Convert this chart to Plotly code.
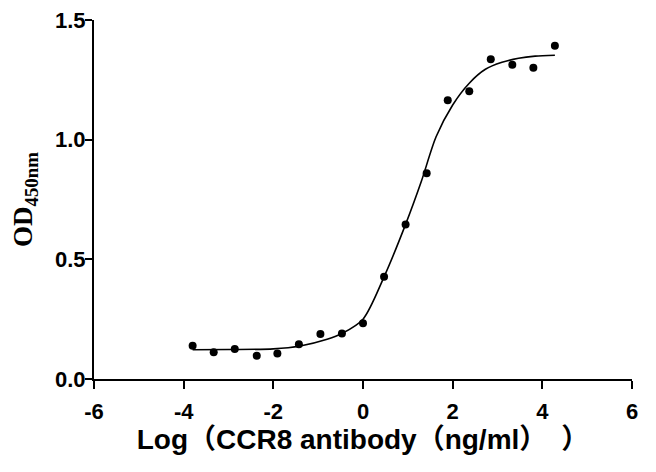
import plotly.graph_objects as go

# measured points, log concentration vs OD450
log_conc = [-3.80, -3.33, -2.86, -2.37, -1.91, -1.43, -0.95, -0.47, 0.00,
            0.47, 0.95, 1.42, 1.89, 2.37, 2.85, 3.33, 3.80, 4.28]
od450 = [0.139, 0.112, 0.125, 0.097, 0.107, 0.145, 0.188, 0.190, 0.233,
         0.427, 0.646, 0.860, 1.165, 1.202, 1.336, 1.313, 1.300, 1.392]

# fitted curve
fit_x = [-3.80, -3.00, -2.00, -1.40, -0.80, -0.47, 0.00, 0.47, 0.95,
         1.30, 1.63, 2.00, 2.37, 2.73, 3.10, 3.47, 3.84, 4.28]
fit_y = [0.122, 0.123, 0.126, 0.138, 0.166, 0.190, 0.250, 0.427, 0.646,
         0.825, 1.012, 1.145, 1.236, 1.294, 1.323, 1.340, 1.349, 1.353]

x_ticks = [-6, -4, -2, 0, 2, 4, 6]
y_ticks = [0.0, 0.5, 1.0, 1.5]

fig = go.Figure()

fig.add_trace(go.Scatter(
    x=fit_x, y=fit_y,
    mode="lines",
    line=dict(color="black", width=1.6, shape="spline", smoothing=0.8),
    hoverinfo="skip",
))
fig.add_trace(go.Scatter(
    x=log_conc, y=od450,
    mode="markers",
    marker=dict(color="black", size=8),
))

axis_font = dict(family="Liberation Sans, Arial", size=22, color="black")

# the page body adds 8px on top/left, margins are shifted to make up for it
fig.update_layout(
    width=656,
    height=472,
    margin=dict(l=86, r=32, t=12, b=101),
    plot_bgcolor="white",
    paper_bgcolor="white",
    showlegend=False,
    xaxis=dict(
        range=[-6, 6],
        tickvals=x_ticks,
        ticktext=[f"<b>{v}</b>" for v in x_ticks],
        tickfont=axis_font,
        showgrid=False,
        zeroline=False,
        showline=True,
        linecolor="black",
        linewidth=2,
        ticks="outside",
        ticklen=8,
        tickwidth=2,
        tickcolor="black",
        ticklabelstandoff=4,
        automargin=False,
        title=dict(
            text="<b>Log（CCR8 antibody（ng/ml）　）</b>",
            font=dict(family="Liberation Sans, Noto Sans CJK SC", size=28,
                      color="black"),
            standoff=4,
        ),
    ),
    yaxis=dict(
        range=[0, 1.5],
        tickvals=y_ticks,
        ticktext=[f"<b>{v:.1f}</b>" for v in y_ticks],
        tickfont=axis_font,
        showgrid=False,
        zeroline=False,
        showline=True,
        linecolor="black",
        linewidth=2,
        ticks="outside",
        ticklen=7,
        tickwidth=2,
        tickcolor="black",
        ticklabelstandoff=-5,
        ticklabeloverflow="allow",
        automargin=False,
        title=dict(
            text="<b>OD<sub>450nm</sub></b>",
            font=dict(family="Liberation Serif, Times New Roman", size=27,
                      color="black"),
            standoff=28,
        ),
    ),
)

fig.write_html("out.html")
